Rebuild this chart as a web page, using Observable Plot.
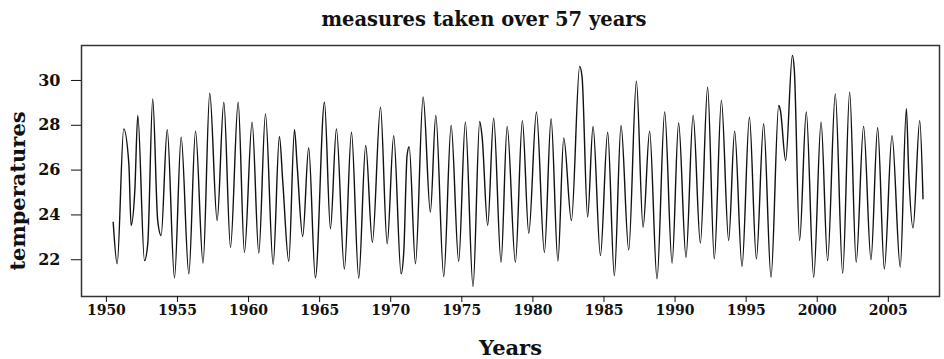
<!DOCTYPE html>
<html><head><meta charset="utf-8">
<script src="https://cdn.jsdelivr.net/npm/d3@7"></script>
<script src="https://cdn.jsdelivr.net/npm/@observablehq/plot@0.6"></script>
<style>
body{margin:0;background:#fff;}
#title{box-sizing:border-box;height:42px;padding-top:8px;padding-left:24px;line-height:24px;text-align:center;font:bold 19.5px "DejaVu Serif",serif;color:#111;}
#chart svg{color:#111;}
#chart svg text{font-family:"DejaVu Serif",serif;font-weight:bold;}
</style></head><body>
<div id="title">measures taken over 57 years</div>
<div id="chart"></div>
<script>
const years = [1950.48,1950.76,1951.22,1951.58,1951.74,1952.00,1952.21,1952.68,1952.91,1953.26,1953.61,1953.85,1954.28,1954.79,
1955.26,1955.80,1956.27,1956.80,1957.27,1957.79,1958.26,1958.73,1959.27,1959.71,1960.25,1960.72,1961.19,1961.73,1962.17,1962.41,1962.83,
1963.23,1963.42,1963.81,1964.23,1964.70,1965.34,1965.76,1966.18,1966.74,1967.24,1967.75,1968.24,1968.71,1969.28,1969.75,1970.21,1970.73,
1970.92,1971.15,1971.30,1971.74,1972.28,1972.79,1973.17,1973.73,1974.25,1974.78,1975.25,1975.79,1976.26,1976.43,1976.82,1977.24,1977.76,
1978.19,1978.77,1979.26,1979.71,1980.25,1980.81,1981.28,1981.76,1982.17,1982.71,1983.29,1983.46,1983.85,1984.23,1984.75,1985.26,1985.73,
1986.20,1986.74,1987.28,1987.75,1988.21,1988.73,1989.27,1989.79,1990.25,1990.77,1991.27,1991.78,1992.29,1992.76,1993.26,1993.77,1994.19,
1994.71,1995.23,1995.72,1996.23,1996.75,1997.29,1997.41,1997.78,1998.25,1998.39,1998.76,1999.23,1999.75,2000.27,2000.73,2001.27,2001.79,
2002.28,2002.74,2003.26,2003.78,2004.25,2004.72,2005.26,2005.84,2006.27,2006.43,2006.74,2007.21,2007.44];
const temps = [23.67,21.82,27.84,26.28,23.53,25.09,28.44,21.96,22.71,29.18,23.75,23.08,27.80,21.19,
27.47,21.37,27.74,21.85,29.43,23.75,29.03,22.56,29.03,22.33,28.14,22.30,28.51,21.79,27.50,25.46,21.93,
27.80,26.20,23.04,27.00,21.19,29.03,23.38,27.84,21.59,27.69,21.18,27.10,22.78,28.81,22.71,27.54,21.37,
22.37,26.65,27.04,21.82,29.26,24.12,28.44,21.25,27.99,21.93,28.14,20.80,28.17,27.47,23.53,28.32,21.89,
27.95,21.89,28.21,23.18,28.59,22.33,28.29,21.94,27.44,23.75,30.63,30.15,23.90,27.95,22.19,27.69,21.29,
27.99,22.44,29.97,23.45,27.74,21.15,28.59,21.85,28.10,22.11,28.44,22.74,29.70,22.04,29.11,22.86,27.74,
21.70,28.36,22.04,28.07,21.22,28.88,28.66,26.43,31.12,30.45,22.86,28.59,21.22,28.14,21.96,29.40,21.40,
29.48,21.89,27.95,22.00,27.89,21.59,27.54,21.67,28.74,25.98,23.42,28.21,24.72];
const xTicks = [1950,1955,1960,1965,1970,1975,1980,1985,1990,1995,2000,2005];
const yTicks = [22,24,26,28,30];
const xLabel = "Years";
const yLabel = "temperatures";

const data = years.map((t, i) => ({t, v: temps[i]}));

const chart = Plot.plot({
  width: 944, height: 317,
  marginTop: 3, marginBottom: 63, marginLeft: 81, marginRight: 5,
  x: {domain: [1948.25, 2008.6]},
  y: {domain: [20.36, 31.56]},
  marks: [
    Plot.frame({stroke: "#333", strokeWidth: 1.5}),
    Plot.axisX({ticks: xTicks, tickFormat: d3.format("d"), tickSize: 6, tickPadding: 3, fontSize: 14, label: null}),
    Plot.axisY({ticks: yTicks, tickSize: 10, tickPadding: 11, fontSize: 16, label: null}),
    Plot.line(data, {x: "t", y: "v", curve: "monotone-x", stroke: "#111", strokeWidth: 1.4}),
    Plot.text([xLabel], {text: d => d, frameAnchor: "bottom", lineAnchor: "middle", textAnchor: "middle", dy: 52, fontSize: 21, fill: "#111"}),
    Plot.text([yLabel], {text: d => d, frameAnchor: "left", textAnchor: "middle", lineAnchor: "middle", rotate: -90, dx: -63, dy: 20, fontSize: 21, fill: "#111"})
  ]
});
document.getElementById("chart").appendChild(chart);
</script>
</body></html>
